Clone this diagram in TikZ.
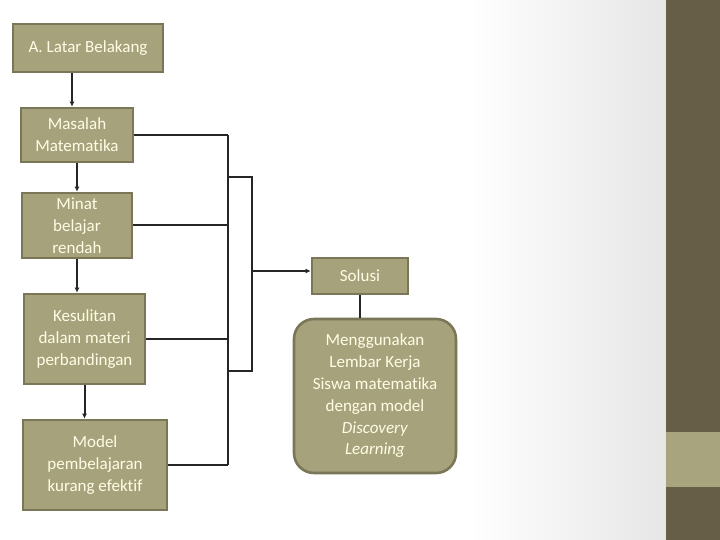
\documentclass[tikz,border=0pt]{standalone}
\usepackage{fontspec}
\setmainfont{Carlito}[Ligatures={NoCommon,NoRequired,NoContextual}]
\usetikzlibrary{arrows.meta}
\definecolor{boxfill}{HTML}{A6A27C}
\definecolor{boxline}{HTML}{7A7658}
\definecolor{boxtext}{HTML}{FFFDE6}
\definecolor{linec}{HTML}{262626}
\definecolor{stripdark}{HTML}{665E46}
\definecolor{striplight}{HTML}{A8A47E}
\definecolor{bggray}{HTML}{E6E6E6}
\begin{document}
\begin{tikzpicture}[x=1pt,y=-1pt,
  box/.style={draw=boxline, line width=2.6pt, fill=boxfill, text=boxtext, align=center, inner sep=0pt,
    font=\fontsize{17}{21.8}\selectfont, anchor=center},
  conn/.style={draw=linec, line width=2pt},
  arr/.style={conn, -{Latex[length=5pt,width=5pt]}}]
\useasboundingbox (0,0) rectangle (720,540);
\fill[white] (0,0) rectangle (666,540);
\shade[left color=white, right color=bggray] (470,0) rectangle (666,540);
\fill[stripdark] (666,0) rectangle (720,540);
\fill[striplight] (666,432) rectangle (720,487);

\node[box, minimum width=150pt, minimum height=48pt] (a) at (88,48) {A. Latar Belakang};
\node[box, minimum width=112pt, minimum height=54pt] (b) at (77,135) {Masalah\\Matematika};
\node[box, minimum width=110pt, minimum height=65pt] (c) at (77,225.5) {Minat\\belajar\\rendah};
\node[box, minimum width=121pt, minimum height=90pt] (d) at (84.5,339) {Kesulitan\\dalam materi\\perbandingan};
\node[box, minimum width=144pt, minimum height=90pt] (e) at (95,465) {Model\\pembelajaran\\kurang efektif};
\node[box, minimum width=96pt, minimum height=36pt] (f) at (360,276) {Solusi};
\node[box, minimum width=162pt, minimum height=154pt, rounded corners=20pt] (g) at (375,396)
  {Menggunakan\\Lembar Kerja\\Siswa matematika\\dengan model\\\textit{Discovery}\\\textit{Learning}};

\coordinate (bx) at (228,0);
\coordinate (by) at (252,0);
\coordinate (t1) at (228,177);
\coordinate (t2) at (228,371);

\draw[arr] ([xshift=-16pt]a.south) -- ([xshift=-16pt]a.south |- b.north);
\draw[arr] (b.south) -- (c.north);
\draw[arr] (c.south) -- (c.south |- d.north);
\draw[arr] (d.south) -- (d.south |- e.north);

\draw[conn] (b.east) -- (b.east -| bx);
\draw[conn] (c.east) -- (c.east -| bx);
\draw[conn] (d.east) -- (d.east -| bx);
\draw[conn] (e.east) -- (e.east -| bx);
\draw[conn] (b.east -| bx) -- (e.east -| bx);
\draw[conn] (t1) -- (t1 -| by) -- (t2 -| by) -- (t2);
\draw[arr] ([yshift=5pt]f.west -| by) -- ([yshift=5pt]f.west);
\draw[conn] (f.south) -- (f.south |- g.north);
\end{tikzpicture}
\end{document}
